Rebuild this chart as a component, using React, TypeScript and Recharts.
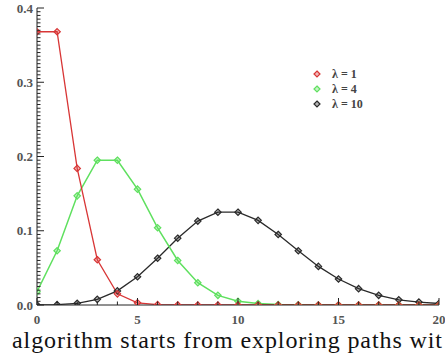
import React from 'react';
import { LineChart, Line, XAxis, YAxis } from 'recharts';

const kValues = [0, 1, 2, 3, 4, 5, 6, 7, 8, 9, 10, 11, 12, 13, 14, 15, 16, 17, 18, 19, 20];
const lambda1 = [0.368, 0.368, 0.184, 0.061, 0.015, 0.003, 0.0005, 0.0001, 0, 0, 0, 0, 0, 0, 0, 0, 0, 0, 0, 0, 0];
const lambda4 = [0.018, 0.073, 0.147, 0.195, 0.195, 0.156, 0.104, 0.06, 0.03, 0.013, 0.005, 0.002, 0.0006, 0.0002, 0, 0, 0, 0, 0, 0, 0];
const lambda10 = [0.00005, 0.0005, 0.0023, 0.0076, 0.019, 0.038, 0.063, 0.09, 0.113, 0.125, 0.125, 0.114, 0.095, 0.073, 0.052, 0.035, 0.022, 0.013, 0.007, 0.004, 0.002];

const xMajorTicks = [0, 5, 10, 15, 20];
const xTickLabels = ['0', '5', '10', '15', '20'];
const yMajorTicks = [0, 0.1, 0.2, 0.3, 0.4];
const yTickLabels = ['0.0', '0.1', '0.2', '0.3', '0.4'];

const seriesNames = ['λ = 1', 'λ = 4', 'λ = 10'];
const seriesColors = ['#d83636', '#5fe05f', '#2a2a2a'];

// the caption is cropped at the right edge in the source image
const captionText = 'algorithm starts from exploring paths wit';

const xMinorTicks = kValues;
const yMinorTicks = Array.from({ length: 81 }, (_, i) => Math.round(i * 5) / 1000);

const data = kValues.map((k, i) => ({
  k,
  l1: lambda1[i],
  l4: lambda4[i],
  l10: lambda10[i],
}));

const serif = '"Liberation Serif", "Times New Roman", Tinos, Times, "DejaVu Serif", serif';
const axisColor = '#222';
const labelStyle = {
  fontFamily: serif,
  fontWeight: 700,
  fontSize: 13,
  fill: '#555',
};

const isMajor = (v: number, majors: number[]) => majors.some((m) => Math.abs(m - v) < 1e-6);

function makeTick(side: 'bottom' | 'top' | 'left' | 'right') {
  return (props: any) => {
    const { x, y, payload } = props;
    const v = payload.value as number;
    const horizontal = side === 'bottom' || side === 'top';
    const majors = horizontal ? xMajorTicks : yMajorTicks;
    const major = isMajor(v, majors);
    const len = major ? 7 : 3.5;
    let line;
    if (side === 'bottom') line = <line x1={x} x2={x} y1={y} y2={y - len} stroke={axisColor} />;
    else if (side === 'top') line = <line x1={x} x2={x} y1={y} y2={y + len} stroke={axisColor} />;
    else if (side === 'left') line = <line x1={x} x2={x + len} y1={y} y2={y} stroke={axisColor} />;
    else line = <line x1={x} x2={x - len} y1={y} y2={y} stroke={axisColor} />;

    let label = null;
    if (major && side === 'bottom') {
      const idx = xMajorTicks.findIndex((m) => Math.abs(m - v) < 1e-6);
      label = (
        <text x={x} y={y + 19} textAnchor="middle" style={labelStyle}>
          {xTickLabels[idx]}
        </text>
      );
    }
    if (major && side === 'left') {
      const idx = yMajorTicks.findIndex((m) => Math.abs(m - v) < 1e-6);
      label = (
        <text x={x - 4} y={y + 4.5} textAnchor="end" style={labelStyle}>
          {yTickLabels[idx]}
        </text>
      );
    }
    return (
      <g>
        {line}
        {label}
      </g>
    );
  };
}

function makeDot(color: string) {
  return (props: any) => {
    const { cx, cy, index } = props;
    if (cx == null || cy == null) return <g key={index} />;
    const r = 3.2;
    return (
      <polygon
        key={index}
        points={`${cx},${cy - r} ${cx + r},${cy} ${cx},${cy + r} ${cx - r},${cy}`}
        fill={color}
        fillOpacity={0.35}
        stroke={color}
        strokeWidth={1.2}
      />
    );
  };
}

function Legend() {
  const rows = [0, 1, 2];
  return (
    <g>
      {rows.map((i) => {
        const y = 74 + i * 15;
        const cx = 317;
        const r = 3;
        return (
          <g key={i}>
            <polygon
              points={`${cx},${y - r} ${cx + r},${y} ${cx},${y + r} ${cx - r},${y}`}
              fill={seriesColors[i]}
              fillOpacity={0.35}
              stroke={seriesColors[i]}
              strokeWidth={1.2}
            />
            <text x={332} y={y + 4} style={{ ...labelStyle, fontSize: 12, fill: '#444' }}>
              {seriesNames[i]}
            </text>
          </g>
        );
      })}
    </g>
  );
}

export default function App() {
  return (
    <div
      style={{
        position: 'absolute',
        left: 0,
        top: 0,
        width: 445,
        height: 355,
        overflow: 'hidden',
        background: '#fff',
      }}
    >
      <LineChart
        width={445}
        height={355}
        data={data}
        margin={{ top: 8, right: 6, bottom: 0, left: 0 }}
      >
        <XAxis
          dataKey="k"
          type="number"
          domain={[0, 20]}
          ticks={xMinorTicks}
          interval={0}
          height={50}
          tickSize={0}
          tickMargin={0}
          tickLine={false}
          stroke={axisColor}
          tick={makeTick('bottom')}
          allowDataOverflow
        />
        <XAxis
          xAxisId="top"
          orientation="top"
          dataKey="k"
          type="number"
          domain={[0, 20]}
          ticks={xMinorTicks}
          interval={0}
          height={0}
          tickSize={0}
          tickMargin={0}
          tickLine={false}
          stroke={axisColor}
          tick={makeTick('top')}
        />
        <YAxis
          type="number"
          domain={[0, 0.4]}
          ticks={yMinorTicks}
          interval={0}
          width={37}
          tickSize={0}
          tickMargin={0}
          tickLine={false}
          stroke={axisColor}
          tick={makeTick('left')}
          allowDataOverflow
        />
        <YAxis
          yAxisId="right"
          orientation="right"
          type="number"
          domain={[0, 0.4]}
          ticks={yMinorTicks}
          interval={0}
          width={0}
          tickSize={0}
          tickMargin={0}
          tickLine={false}
          stroke={axisColor}
          tick={makeTick('right')}
        />
        <Line
          dataKey="l10"
          stroke={seriesColors[2]}
          strokeWidth={1.3}
          dot={makeDot(seriesColors[2])}
          isAnimationActive={false}
        />
        <Line
          dataKey="l4"
          stroke={seriesColors[1]}
          strokeWidth={1.5}
          dot={makeDot(seriesColors[1])}
          isAnimationActive={false}
        />
        <Line
          dataKey="l1"
          stroke={seriesColors[0]}
          strokeWidth={1.3}
          dot={makeDot(seriesColors[0])}
          isAnimationActive={false}
        />
        <Legend />
      </LineChart>
      <svg
        width={445}
        height={355}
        style={{ position: 'absolute', left: 0, top: 0, pointerEvents: 'none' }}
      >
        <text
          x={12}
          y={348}
          textLength={430}
          lengthAdjust="spacing"
          style={{ fontFamily: serif, fontSize: 24, fill: '#111' }}
        >
          {captionText}
        </text>
      </svg>
    </div>
  );
}
